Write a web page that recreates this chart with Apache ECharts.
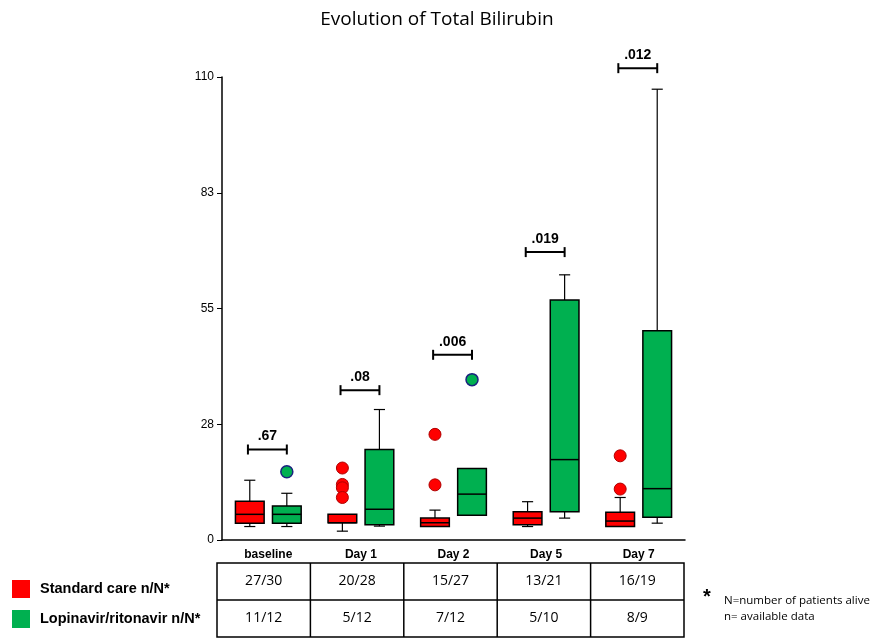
<!DOCTYPE html>
<html>
<head>
<meta charset="utf-8">
<title>Evolution of Total Bilirubin</title>
<script src="https://cdn.jsdelivr.net/npm/echarts@6/dist/echarts.min.js"></script>
<style>
  html, body { margin: 0; padding: 0; background: #ffffff; }
  #chart { width: 874px; height: 639px; }
</style>
</head>
<body>
<div id="chart"></div>
<script>
// Time points
const categories = ['baseline', 'Day 1', 'Day 2', 'Day 5', 'Day 7'];

// Box statistics per time point: [lower whisker, Q1, median, Q3, upper whisker]
const standardBoxes = [
  [3.2, 4.0, 6.1, 9.2, 14.2],
  [2.1, 4.1, 4.1, 6.1, 6.1],
  [3.2, 3.2, 4.1, 5.2, 7.1],
  [3.2, 3.6, 5.2, 6.7, 9.1],
  [3.2, 3.2, 4.5, 6.6, 10.1]
];
const lopinavirBoxes = [
  [3.2, 4.0, 6.1, 8.1, 11.1],
  [3.3, 3.6, 7.3, 21.5, 31.0],
  [5.9, 5.9, 10.9, 17.0, 17.0],
  [5.2, 6.7, 19.1, 57.0, 63.0],
  [4.0, 5.4, 12.2, 49.7, 107.1]
];

// Outliers: [time point index, value]
const standardOutliers = [[1, 17.1], [1, 13.2], [1, 12.4], [1, 10.1], [2, 25.1], [2, 13.1], [4, 20.0], [4, 12.1]];
const lopinavirOutliers = [[0, 16.2], [2, 38.1]];

// Between-group p values and the height of each comparison bracket
const pValues = ['.67', '.08', '.006', '.019', '.012'];
const bracketLevels = [21.5, 35.6, 44.0, 68.4, 112.1];

// Sample sizes n/N
const standardCounts = ['27/30', '20/28', '15/27', '13/21', '16/19'];
const lopinavirCounts = ['11/12', '5/12', '7/12', '5/10', '8/9'];

// Y axis ticks
const yTicks = [0, 27.5, 55, 82.5, 110];

const groupNames = ['Standard care n/N*', 'Lopinavir/ritonavir n/N*'];
const RED = '#ff0000';
const GREEN = '#00b050';

function boxRenderer(fill, side) {
  return function (params, api) {
    const cat = api.value(0);
    const band = api.size([1, 0])[0];
    const cx = api.coord([cat, 0])[0] + side * band * 0.2;
    const w = band * 0.31;
    const cap = band * 0.12;
    const y = (v) => api.coord([cat, v])[1];
    const lo = y(api.value(1)), q1 = y(api.value(2)), med = y(api.value(3)),
          q3 = y(api.value(4)), hi = y(api.value(5));
    const line = { stroke: '#000', lineWidth: 1.2 };
    const children = [];
    if (hi < q3 - 0.5) {
      children.push({ type: 'line', shape: { x1: cx, y1: q3, x2: cx, y2: hi }, style: line });
      children.push({ type: 'line', shape: { x1: cx - cap / 2, y1: hi, x2: cx + cap / 2, y2: hi }, style: line });
    }
    if (lo > q1 + 0.5) {
      children.push({ type: 'line', shape: { x1: cx, y1: q1, x2: cx, y2: lo }, style: line });
      children.push({ type: 'line', shape: { x1: cx - cap / 2, y1: lo, x2: cx + cap / 2, y2: lo }, style: line });
    }
    children.push({
      type: 'rect',
      shape: { x: cx - w / 2, y: q3, width: w, height: q1 - q3 },
      style: { fill: fill, stroke: '#000', lineWidth: 1.5 }
    });
    children.push({ type: 'line', shape: { x1: cx - w / 2, y1: med, x2: cx + w / 2, y2: med }, style: { stroke: '#000', lineWidth: 1.5 } });
    return { type: 'group', children: children };
  };
}

function bracketRenderer(params, api) {
  const cat = api.value(0);
  const band = api.size([1, 0])[0];
  const c = api.coord([cat, api.value(1)]);
  const x1 = c[0] - band * 0.22, x2 = c[0] + band * 0.2, yy = c[1];
  const st = { stroke: '#000', lineWidth: 2 };
  return {
    type: 'group',
    children: [
      { type: 'line', shape: { x1: x1, y1: yy, x2: x2, y2: yy }, style: st },
      { type: 'line', shape: { x1: x1, y1: yy - 5, x2: x1, y2: yy + 5 }, style: st },
      { type: 'line', shape: { x1: x2, y1: yy - 5, x2: x2, y2: yy + 5 }, style: st },
      {
        type: 'text',
        style: {
          text: pValues[params.dataIndex], x: (x1 + x2) / 2, y: yy - 6,
          align: 'center', verticalAlign: 'bottom',
          font: 'bold 14px "Liberation Sans", Arial, sans-serif', fill: '#000'
        }
      }
    ]
  };
}

const chart = echarts.init(document.getElementById('chart'), null, { renderer: 'canvas' });

const option = {
  backgroundColor: '#ffffff',
  animation: false,
  title: {
    text: 'Evolution of Total Bilirubin',
    left: 'center', top: 5,
    textStyle: { fontFamily: '"Open Sans", sans-serif', fontWeight: 'normal', fontSize: 19, color: '#000' }
  },
  grid: { left: 222, right: 189, top: 77, bottom: 99 },
  xAxis: {
    type: 'category',
    data: categories,
    boundaryGap: true,
    axisLine: { lineStyle: { color: '#000', width: 1.5 } },
    axisTick: { alignWithLabel: true, length: 5, lineStyle: { color: '#000' } },
    axisLabel: { color: '#000', fontWeight: 'bold', fontSize: 12, fontFamily: '"Liberation Sans", Arial, sans-serif', margin: 9 },
    splitLine: { show: false }
  },
  yAxis: {
    type: 'value',
    min: yTicks[0], max: yTicks[yTicks.length - 1], interval: yTicks[1] - yTicks[0],
    axisLine: { show: true, lineStyle: { color: '#000', width: 1.5 } },
    axisTick: { show: true, length: 5, lineStyle: { color: '#000' } },
    axisLabel: {
      color: '#000', fontSize: 12, fontFamily: '"Liberation Sans", Arial, sans-serif', margin: 8,
      formatter: (v) => String(Math.round(v))
    },
    splitLine: { show: false }
  },
  series: [
    {
      name: groupNames[0], type: 'custom', renderItem: boxRenderer(RED, -1),
      encode: { x: 0, y: [1, 2, 3, 4, 5] },
      data: standardBoxes.map((b, i) => [i].concat(b)), z: 3
    },
    {
      name: groupNames[1], type: 'custom', renderItem: boxRenderer(GREEN, 1),
      encode: { x: 0, y: [1, 2, 3, 4, 5] },
      data: lopinavirBoxes.map((b, i) => [i].concat(b)), z: 3
    },
    {
      type: 'custom', renderItem: function (params, api) {
        const band = api.size([1, 0])[0];
        const c = api.coord([api.value(0), api.value(1)]);
        return { type: 'circle', shape: { cx: c[0] - band * 0.2, cy: c[1], r: 6 }, style: { fill: RED, stroke: '#b00000', lineWidth: 1 } };
      },
      data: standardOutliers, z: 4
    },
    {
      type: 'custom', renderItem: function (params, api) {
        const band = api.size([1, 0])[0];
        const c = api.coord([api.value(0), api.value(1)]);
        return { type: 'circle', shape: { cx: c[0] + band * 0.2, cy: c[1], r: 6 }, style: { fill: GREEN, stroke: '#1a237e', lineWidth: 1.5 } };
      },
      data: lopinavirOutliers, z: 4
    },
    {
      type: 'custom', renderItem: bracketRenderer, clip: false,
      data: bracketLevels.map((v, i) => [i, v]), z: 5
    }
  ]
};

chart.setOption(option);

// Sample size table, legend swatches and footnote below the plot
const tableLeft = 217, tableTop = 563, rowH = 37, colW = 93.4;
const cellFont = '14px "Open Sans", sans-serif';
const graphics = [];
const nCols = categories.length;
const tableRight = tableLeft + colW * nCols;
graphics.push({ type: 'rect', shape: { x: tableLeft, y: tableTop, width: colW * nCols, height: rowH * 2 }, style: { fill: 'none', stroke: '#000', lineWidth: 1.5 } });
graphics.push({ type: 'line', shape: { x1: tableLeft, y1: tableTop + rowH, x2: tableRight, y2: tableTop + rowH }, style: { stroke: '#000', lineWidth: 1.5 } });
for (let i = 1; i < nCols; i++) {
  const x = tableLeft + colW * i;
  graphics.push({ type: 'line', shape: { x1: x, y1: tableTop, x2: x, y2: tableTop + rowH * 2 }, style: { stroke: '#000', lineWidth: 1.5 } });
}
[standardCounts, lopinavirCounts].forEach((row, r) => {
  row.forEach((txt, i) => {
    graphics.push({
      type: 'text',
      style: { text: txt, x: tableLeft + colW * (i + 0.5), y: tableTop + rowH * (r + 0.5), align: 'center', verticalAlign: 'middle', font: cellFont, fill: '#000' }
    });
  });
});
[RED, GREEN].forEach((col, r) => {
  const cy = 589 + r * 30;
  graphics.push({ type: 'rect', shape: { x: 12, y: cy - 9, width: 18, height: 18 }, style: { fill: col } });
  graphics.push({
    type: 'text',
    style: { text: groupNames[r], x: 40, y: cy, verticalAlign: 'middle', font: 'bold 14.5px "Liberation Sans", Arial, sans-serif', fill: '#000' }
  });
});
graphics.push({ type: 'text', style: { text: '*', x: 703, y: 597, verticalAlign: 'middle', font: 'bold 20px "Liberation Sans", Arial, sans-serif', fill: '#000' } });
graphics.push({ type: 'text', style: { text: 'N=number of patients alive', x: 724, y: 601, verticalAlign: 'middle', font: '11.5px "Open Sans", sans-serif', fill: '#000' } });
graphics.push({ type: 'text', style: { text: 'n= available data', x: 724, y: 617, verticalAlign: 'middle', font: '11.5px "Open Sans", sans-serif', fill: '#000' } });

chart.setOption({ graphic: { elements: graphics } });
</script>
</body>
</html>
